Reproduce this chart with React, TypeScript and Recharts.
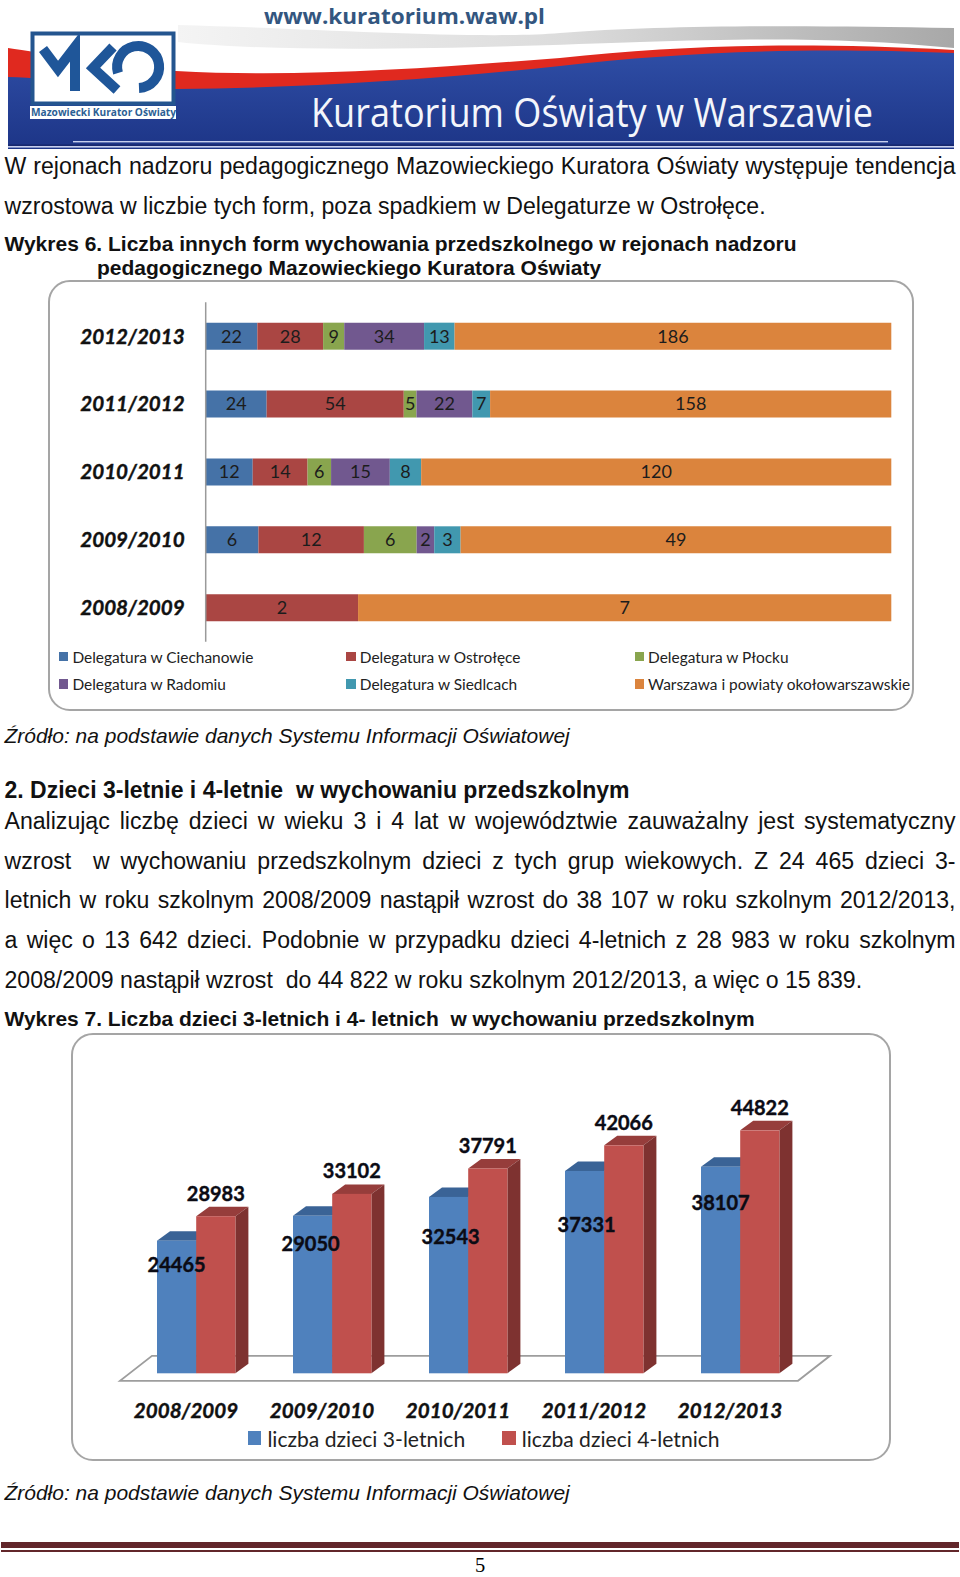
import React from "react";
import { Bar, BarChart, LabelList, Legend, XAxis, YAxis, usePlotArea } from "recharts";

// Wykres 6
const yearsTopDown = ["2012/2013", "2011/2012", "2010/2011", "2009/2010", "2008/2009"];
const ciechanow = [22, 24, 12, 6, 0];
const ostroleka = [28, 54, 14, 12, 2];
const plock = [9, 5, 6, 6, 0];
const radom = [34, 22, 15, 2, 0];
const siedlce = [13, 7, 8, 3, 0];
const warszawa = [186, 158, 120, 49, 7];

const delegaturaSeries = [
  { key: "ciechanow", name: "Delegatura w Ciechanowie", color: "#4572A7", values: ciechanow },
  { key: "ostroleka", name: "Delegatura w Ostrołęce", color: "#AA4643", values: ostroleka },
  { key: "plock", name: "Delegatura w Płocku", color: "#89A54E", values: plock },
  { key: "radom", name: "Delegatura w Radomiu", color: "#71588F", values: radom },
  { key: "siedlce", name: "Delegatura w Siedlcach", color: "#4198AF", values: siedlce },
  { key: "warszawa", name: "Warszawa i powiaty okołowarszawskie", color: "#DB843D", values: warszawa },
];

const chart6Data = yearsTopDown.map((year, i) => {
  const row: Record<string, string | number> = { year };
  delegaturaSeries.forEach((s) => (row[s.key] = s.values[i]));
  return row;
});

// Wykres 7
const yearsAscending = ["2008/2009", "2009/2010", "2010/2011", "2011/2012", "2012/2013"];
const children3 = [24465, 29050, 32543, 37331, 38107];
const children4 = [28983, 33102, 37791, 42066, 44822];
const chart7Data = yearsAscending.map((year, i) => ({ year, children3: children3[i], children4: children4[i] }));

// the labels of the blue bars were moved by hand in the original
const blueLabelDrop = [23, 27, 39, 53, 35];
const blueLabelShift = [0, -2, 2, 2, 0];

const ARIAL = '"Liberation Sans", Arial, sans-serif';
const CALIBRI = 'Lato, "Open Sans", sans-serif';
const DEPTH_X = 13;
const DEPTH_Y = 9.5;

type LineProps = {
  y: number;
  left?: number;
  width?: number;
  bold?: boolean;
  italic?: boolean;
  size?: number;
  children: React.ReactNode;
};

const Line = ({ y, left = 4.5, width, bold, italic, size = 23.1, children }: LineProps) => (
  <div
    style={{
      position: "absolute",
      left,
      top: y - 15,
      width: width ?? "auto",
      height: 30,
      lineHeight: "30px",
      fontFamily: ARIAL,
      fontSize: size,
      fontWeight: bold ? 700 : 400,
      fontStyle: italic ? "italic" : "normal",
      color: "#111",
      whiteSpace: width ? "pre-wrap" : "pre",
      textAlign: width ? "justify" : "left",
      textAlignLast: width ? "justify" : "left",
    }}>
    {children}
  </div>
);

const Frame = ({ left, top, width, height }: { left: number; top: number; width: number; height: number }) => (
  <div
    style={{
      position: "absolute",
      left,
      top,
      width,
      height,
      boxSizing: "border-box",
      border: "2px solid #a5a5a5",
      borderRadius: 22,
      background: "#fff",
    }}
  />
);

const Banner = () => (
  <svg width={960} height={152} style={{ position: "absolute", left: 0, top: 0 }}>
    <defs>
      <linearGradient id="bannerBlue" x1="0" y1="0" x2="0" y2="1">
        <stop offset="0" stopColor="#2f4ea6" />
        <stop offset="1" stopColor="#1d3587" />
      </linearGradient>
      <linearGradient id="bannerGrey" x1="0" y1="0" x2="1" y2="0">
        <stop offset="0" stopColor="#f4f4f4" />
        <stop offset="0.5" stopColor="#dcdcdc" />
        <stop offset="1" stopColor="#a8a8a8" />
      </linearGradient>
    </defs>
    <path d="M178 25 C300 28 480 40 560 33 C660 25 800 25 954 28 L954 48 C850 38 760 38 640 42 C520 46 300 55 178 42 Z" fill="url(#bannerGrey)" />
    <path d="M8 48 C40 52 110 68 176 71 C300 78 430 68 560 58 C680 45 800 42 954 50 L954 149 L8 149 Z" fill="#e0291f" />
    <path d="M8 77 C60 78 110 90 176 89 C300 88 430 80 560 66 C680 52 800 47 954 53 L954 149 L8 149 Z" fill="url(#bannerBlue)" />
    <rect x={73} y={141} width={815} height={1.4} fill="#c6cfee" />
    <rect x={8} y={146} width={946} height={1.6} fill="#c6cfee" />
    <rect x={8} y={144.4} width={946} height={1.6} fill="#17286e" />
    <text x={264} y={24} textLength={281} lengthAdjust="spacingAndGlyphs" fontFamily='"Open Sans", sans-serif' fontWeight={700} fontSize={22} fill="#33567f">
      www.kuratorium.waw.pl
    </text>
    <text x={311} y={127} textLength={562} lengthAdjust="spacingAndGlyphs" fontFamily='"Open Sans", sans-serif' fontSize={40} fill="#f4f6fb">
      Kuratorium Oświaty w Warszawie
    </text>
    <rect x={32.5} y={33.5} width={141} height={70} fill="#fff" stroke="#24558f" strokeWidth={4} />
    <rect x={30} y={106} width={146} height={13} fill="#fff" />
    <g fill="none" stroke="#1f5699" strokeWidth={10}>
      <polyline points="43,49 58,69 75,47 75,91" />
      <polyline points="113,47 93,68 117,90" />
      <path d="M118 73 A21 21 0 1 1 139 88" />
    </g>
    <text x={31} y={116} textLength={145} lengthAdjust="spacingAndGlyphs" fontFamily='"Open Sans", sans-serif' fontWeight={700} fontSize={10.5} fill="#2c5f95">
      Mazowiecki Kurator Oświaty
    </text>
  </svg>
);

const LegendRow = ({ payload, columns, size, gap, font }: any) => (
  <div style={{ display: "grid", gridTemplateColumns: columns, rowGap: 9 }}>
    {(payload ?? []).map((item: any) => (
      <div key={item.value} style={{ display: "flex", alignItems: "center", height: 18.3, whiteSpace: "nowrap" }}>
        <span style={{ display: "inline-block", flexShrink: 0, width: size, height: size, marginRight: gap, background: item.color }} />
        <span style={{ fontFamily: CALIBRI, fontSize: font, color: "#222" }}>{item.value}</span>
      </div>
    ))}
  </div>
);

const hideZero = (value: any) => (value ? value : "");

const Chart6 = () => (
  <BarChart
    width={866}
    height={431}
    layout="vertical"
    stackOffset="expand"
    data={chart6Data}
    barCategoryGap="30%"
    margin={{ top: 22.3, right: 22.7, bottom: 69.3, left: 27.7 }}
    style={{ position: "absolute", left: 48, top: 280 }}>
    <XAxis type="number" hide domain={[0, 1]} />
    <YAxis
      type="category"
      dataKey="year"
      width={130}
      tickLine={false}
      tickSize={0}
      tickMargin={21}
      axisLine={{ stroke: "#9a9a9a", strokeWidth: 1.5 }}
      tick={{ fill: "#111", stroke: "#111", strokeWidth: 0.4, fontFamily: CALIBRI, fontWeight: 700, fontStyle: "italic", fontSize: 20.6 }}
    />
    <Legend
      layout="horizontal"
      verticalAlign="middle"
      align="center"
      wrapperStyle={{ left: 11, top: 367.5, width: 860 }}
      content={(props: any) => <LegendRow {...props} columns="287.4px 288.3px 284px" size={9.4} gap={4} font={15.45} />}
    />
    {delegaturaSeries.map((s) => (
      <Bar key={s.key} dataKey={s.key} name={s.name} stackId="a" fill={s.color} isAnimationActive={false}>
        <LabelList dataKey={s.key} position="center" formatter={hideZero} fill="#1c1c1c" fontFamily={CALIBRI} fontSize={18} />
      </Bar>
    ))}
  </BarChart>
);

const Floor = () => {
  const plot = usePlotArea();
  if (!plot) return null;
  const bottom = plot.y + plot.height;
  const left = plot.x;
  const right = plot.x + plot.width;
  const points = [
    [left - 8, bottom + 7.5],
    [right - 10, bottom + 7.5],
    [right + 22, bottom - 17.5],
    [left + 24, bottom - 17.5],
  ];
  return <polygon points={points.map((p) => p.join(",")).join(" ")} fill="#fff" stroke="#9d9d9d" strokeWidth={1.8} />;
};

const makeBox3D =
  (front: string, top: string, side: string) =>
  ({ x, y, width, height }: any) => (
    <g>
      <polygon
        points={`${x},${y} ${x + DEPTH_X},${y - DEPTH_Y} ${x + width + DEPTH_X},${y - DEPTH_Y} ${x + width},${y}`}
        fill={top}
      />
      <polygon
        points={`${x + width},${y} ${x + width + DEPTH_X},${y - DEPTH_Y} ${x + width + DEPTH_X},${y + height - DEPTH_Y} ${x + width},${y + height}`}
        fill={side}
      />
      <rect x={x} y={y} width={width} height={height} fill={front} />
    </g>
  );

const BlueLabel = ({ x, y, width, value, index }: any) => (
  <text
    x={x + width / 2 + blueLabelShift[index]}
    y={y + blueLabelDrop[index]}
    textAnchor="middle"
    dominantBaseline="central"
    fontFamily={CALIBRI}
    fontWeight={700}
    fontSize={20}
    stroke="#0b0b14"
    strokeWidth={0.4}
    fill="#0b0b14">
    {value}
  </text>
);

const RedLabel = ({ x, y, width, value }: any) => (
  <text
    x={x + width / 2}
    y={y - 23.5}
    textAnchor="middle"
    dominantBaseline="central"
    fontFamily={CALIBRI}
    fontWeight={700}
    fontSize={20}
    stroke="#0b0b14"
    strokeWidth={0.4}
    fill="#0b0b14">
    {value}
  </text>
);

const Chart7 = () => (
  <BarChart
    width={820}
    height={428}
    data={chart7Data}
    barSize={39.2}
    barGap={0}
    margin={{ top: 69.3, right: 83, bottom: 47.7, left: 57 }}
    style={{ position: "absolute", left: 71, top: 1033 }}>
    <Floor />
    <XAxis
      dataKey="year"
      height={40}
      axisLine={false}
      tickLine={false}
      tickSize={0}
      tickMargin={30}
      tick={{ dx: -10, fill: "#111", stroke: "#111", strokeWidth: 0.4, fontFamily: CALIBRI, fontWeight: 700, fontStyle: "italic", fontSize: 20.6 }}
    />
    <YAxis hide domain={[0, 50000]} />
    <Legend
      layout="horizontal"
      verticalAlign="middle"
      align="center"
      wrapperStyle={{ left: 177, top: 396, width: 560 }}
      content={(props: any) => <LegendRow {...props} columns="254.4px 240px" size={13.4} gap={6} font={21.1} />}
    />
    <Bar
      dataKey="children3"
      name="liczba dzieci 3-letnich"
      fill="#4F81BD"
      isAnimationActive={false}
      shape={makeBox3D("#4F81BD", "#3A6396", "#3A6396")}>
      <LabelList dataKey="children3" content={BlueLabel} />
    </Bar>
    <Bar
      dataKey="children4"
      name="liczba dzieci 4-letnich"
      fill="#C0504D"
      isAnimationActive={false}
      shape={makeBox3D("#C0504D", "#963D3B", "#7E3230")}>
      <LabelList dataKey="children4" content={RedLabel} />
    </Bar>
  </BarChart>
);

export default function App() {
  return (
    <div style={{ position: "absolute", left: 0, top: 0, width: 960, height: 1577, background: "#fff", overflow: "hidden" }}>
      <Banner />
      <Line y={166} width={951}>W rejonach nadzoru pedagogicznego Mazowieckiego Kuratora Oświaty występuje tendencja</Line>
      <Line y={206}>wzrostowa w liczbie tych form, poza spadkiem w Delegaturze w Ostrołęce.</Line>
      <Line y={244} bold size={21}>Wykres 6. Liczba innych form wychowania przedszkolnego w rejonach nadzoru</Line>
      <Line y={268} bold size={21} left={97}>pedagogicznego Mazowieckiego Kuratora Oświaty</Line>

      <Frame left={48} top={280} width={866} height={431} />
      <Chart6 />

      <Line y={736} italic size={20.98}>Źródło: na podstawie danych Systemu Informacji Oświatowej</Line>
      <Line y={790} bold size={23}>2. Dzieci 3-letnie i 4-letnie  w wychowaniu przedszkolnym</Line>
      <Line y={821} width={951}>Analizując liczbę dzieci w wieku 3 i 4 lat w województwie zauważalny jest systematyczny</Line>
      <Line y={860.5} width={951}>wzrost  w wychowaniu przedszkolnym dzieci z tych grup wiekowych. Z 24 465 dzieci 3-</Line>
      <Line y={900} width={951}>letnich w roku szkolnym 2008/2009 nastąpił wzrost do 38 107 w roku szkolnym 2012/2013,</Line>
      <Line y={940} width={951}>a więc o 13 642 dzieci. Podobnie w przypadku dzieci 4-letnich z 28 983 w roku szkolnym</Line>
      <Line y={980}>2008/2009 nastąpił wzrost  do 44 822 w roku szkolnym 2012/2013, a więc o 15 839.</Line>
      <Line y={1019} bold size={20.97}>Wykres 7. Liczba dzieci 3-letnich i 4- letnich  w wychowaniu przedszkolnym</Line>

      <Frame left={71} top={1033} width={820} height={428} />
      <Chart7 />

      <Line y={1493} italic size={20.98}>Źródło: na podstawie danych Systemu Informacji Oświatowej</Line>
      <div style={{ position: "absolute", left: 1, top: 1542, width: 958, height: 6, background: "#62262a" }} />
      <div style={{ position: "absolute", left: 1, top: 1550, width: 958, height: 2, background: "#62262a" }} />
      <div style={{ position: "absolute", left: 470, top: 1553, width: 20, height: 24, textAlign: "center", fontFamily: '"Liberation Serif", serif', fontSize: 20.5, lineHeight: "24px" }}>5</div>
    </div>
  );
}
